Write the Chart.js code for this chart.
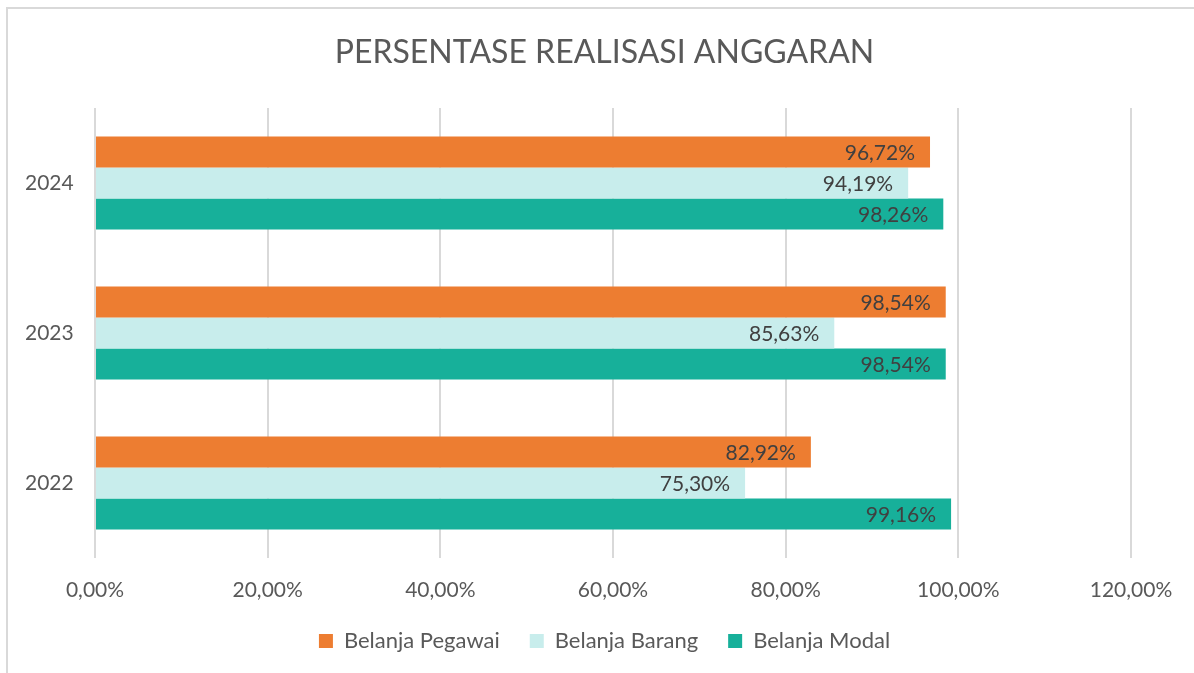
<!DOCTYPE html>
<html>
<head>
<meta charset="utf-8">
<script src="https://cdn.jsdelivr.net/npm/chart.js@4.4.1/dist/chart.umd.min.js"></script>
<style>
  html, body { margin: 0; padding: 0; background: #fff; }
  #wrap { position: relative; width: 1194px; height: 673px; overflow: hidden; }
  #frame {
    position: absolute; left: 6px; top: 7px; width: 1300px; height: 800px;
    border: 2px solid #d9d9d9; box-sizing: border-box;
  }
  canvas { position: absolute; left: 0; top: 0; }
</style>
</head>
<body>
<div id="wrap">
  <div id="frame"></div>
  <canvas id="chart" width="1194" height="673"></canvas>
</div>
<script>
const years = ["2024", "2023", "2022"];
const pegawai = [96.72, 98.54, 82.92];
const barang = [94.19, 85.63, 75.30];
const modal = [98.26, 98.54, 99.16];
const xTicks = [0, 20, 40, 60, 80, 100, 120];

const FONT = "Lato, 'Open Sans', sans-serif";

function pct(v) {
  return v.toFixed(2).replace(".", ",") + "%";
}

// value labels drawn inside the end of each bar
const barLabels = {
  id: "barLabels",
  afterDatasetsDraw(chart) {
    const ctx = chart.ctx;
    ctx.save();
    ctx.font = "21px " + FONT;
    ctx.fillStyle = "#404040";
    ctx.textAlign = "right";
    ctx.textBaseline = "middle";
    chart.data.datasets.forEach((ds, i) => {
      chart.getDatasetMeta(i).data.forEach((bar, j) => {
        ctx.fillText(pct(ds.data[j]), bar.x - 15, bar.y + 1);
      });
    });
    ctx.restore();
  }
};

const chartInstance = new Chart(document.getElementById("chart"), {
  type: "bar",
  data: {
    labels: years,
    datasets: [
      { label: "Belanja Pegawai", data: pegawai, backgroundColor: "#ED7D31" },
      { label: "Belanja Barang", data: barang, backgroundColor: "#C8EDEC" },
      { label: "Belanja Modal", data: modal, backgroundColor: "#17B09A" }
    ]
  },
  options: {
    indexAxis: "y",
    responsive: false,
    animation: false,
    datasets: {
      bar: { categoryPercentage: 0.62, barPercentage: 1.0 }
    },
    // left padding keeps title and legend centred like the plot frame
    layout: { padding: { left: 78, right: 63, top: 0, bottom: 11 } },
    plugins: {
      title: {
        display: true,
        text: "PERSENTASE REALISASI ANGGARAN",
        color: "#595959",
        font: { family: FONT, size: 32, weight: 400 },
        padding: { top: 33, bottom: 36.6 }
      },
      legend: {
        position: "bottom",
        labels: {
          color: "#595959",
          font: { family: FONT, size: 22 },
          boxWidth: 14,
          boxHeight: 14,
          padding: 30
        }
      },
      tooltip: { enabled: false }
    },
    scales: {
      x: {
        min: 0,
        max: 120,
        afterBuildTicks(scale) {
          scale.ticks = xTicks.map(v => ({ value: v }));
        },
        afterFit(scale) { scale.height = 42; },
        ticks: {
          color: "#595959",
          font: { family: FONT, size: 21 },
          padding: 20,
          callback: v => pct(v)
        },
        grid: { color: "#d9d9d9", lineWidth: 2, drawTicks: false },
        border: { display: false }
      },
      y: {
        afterFit(scale) { scale.width = 17; },
        // mirrored so the labels are not clipped to the narrow scale box,
        // negative padding pulls them back left of the plot
        ticks: {
          mirror: true,
          color: "#595959",
          font: { family: FONT, size: 21 },
          padding: -70
        },
        grid: { display: false, drawTicks: false },
        border: { display: false }
      }
    }
  },
  plugins: [barLabels]
});
</script>
</body>
</html>
